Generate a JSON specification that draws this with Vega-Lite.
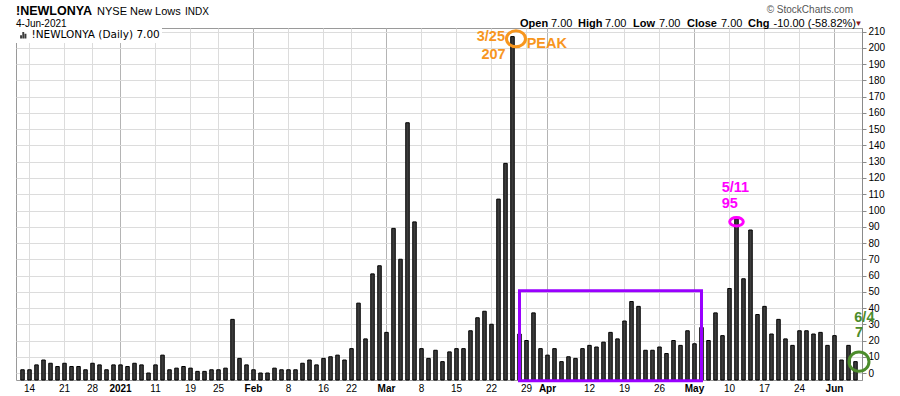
{
  "$schema": "https://vega.github.io/schema/vega-lite/v6.json",
  "width": 846,
  "height": 352,
  "autosize": {"type": "none"},
  "padding": {"left": 16, "top": 28, "right": 38, "bottom": 16},
  "background": "white",
  "config": {
    "view": {"stroke": "#9a9a9a", "strokeWidth": 1},
    "font": "Liberation Sans",
    "text": {"font": "Liberation Sans"},
    "axisY": {
      "tickCount": 22,
      "labelOverlap": false,
      "grid": true,
      "gridColor": "#dcdcdc",
      "labelFont": "Liberation Sans",
      "labelFontSize": 10,
      "labelColor": "#000000",
      "labelPadding": 2,
      "tickSize": 4,
      "tickColor": "#8a8a8a",
      "domainColor": "#8a8a8a"
    }
  },
  "data": {
    "values": [
      {"date": "2020-12-11", "lows": 2}, {"date": "2020-12-14", "lows": 2}, {"date": "2020-12-15", "lows": 5},
      {"date": "2020-12-16", "lows": 8}, {"date": "2020-12-17", "lows": 6}, {"date": "2020-12-18", "lows": 4},
      {"date": "2020-12-21", "lows": 6}, {"date": "2020-12-22", "lows": 4}, {"date": "2020-12-23", "lows": 4},
      {"date": "2020-12-24", "lows": 2}, {"date": "2020-12-28", "lows": 6}, {"date": "2020-12-29", "lows": 5},
      {"date": "2020-12-30", "lows": 2}, {"date": "2020-12-31", "lows": 5}, {"date": "2021-01-04", "lows": 5},
      {"date": "2021-01-05", "lows": 4}, {"date": "2021-01-06", "lows": 6}, {"date": "2021-01-07", "lows": 5},
      {"date": "2021-01-08", "lows": 0}, {"date": "2021-01-11", "lows": 5}, {"date": "2021-01-12", "lows": 11},
      {"date": "2021-01-13", "lows": 2}, {"date": "2021-01-14", "lows": 3}, {"date": "2021-01-15", "lows": 4},
      {"date": "2021-01-19", "lows": 3}, {"date": "2021-01-20", "lows": 1}, {"date": "2021-01-21", "lows": 1},
      {"date": "2021-01-22", "lows": 2}, {"date": "2021-01-25", "lows": 2}, {"date": "2021-01-26", "lows": 3},
      {"date": "2021-01-27", "lows": 33}, {"date": "2021-01-28", "lows": 9}, {"date": "2021-01-29", "lows": 5},
      {"date": "2021-02-01", "lows": 2}, {"date": "2021-02-02", "lows": 0}, {"date": "2021-02-03", "lows": 0},
      {"date": "2021-02-04", "lows": 3}, {"date": "2021-02-05", "lows": 2}, {"date": "2021-02-08", "lows": 2},
      {"date": "2021-02-09", "lows": 2}, {"date": "2021-02-10", "lows": 6}, {"date": "2021-02-11", "lows": 8},
      {"date": "2021-02-12", "lows": 5}, {"date": "2021-02-16", "lows": 9}, {"date": "2021-02-17", "lows": 10},
      {"date": "2021-02-18", "lows": 11}, {"date": "2021-02-19", "lows": 8}, {"date": "2021-02-22", "lows": 15},
      {"date": "2021-02-23", "lows": 43}, {"date": "2021-02-24", "lows": 21}, {"date": "2021-02-25", "lows": 61},
      {"date": "2021-02-26", "lows": 66}, {"date": "2021-03-01", "lows": 25}, {"date": "2021-03-02", "lows": 89},
      {"date": "2021-03-03", "lows": 70}, {"date": "2021-03-04", "lows": 154}, {"date": "2021-03-05", "lows": 93},
      {"date": "2021-03-08", "lows": 15}, {"date": "2021-03-09", "lows": 9}, {"date": "2021-03-10", "lows": 14},
      {"date": "2021-03-11", "lows": 7}, {"date": "2021-03-12", "lows": 13}, {"date": "2021-03-15", "lows": 15},
      {"date": "2021-03-16", "lows": 15}, {"date": "2021-03-17", "lows": 26}, {"date": "2021-03-18", "lows": 34},
      {"date": "2021-03-19", "lows": 38}, {"date": "2021-03-22", "lows": 30}, {"date": "2021-03-23", "lows": 107},
      {"date": "2021-03-24", "lows": 129}, {"date": "2021-03-25", "lows": 207}, {"date": "2021-03-26", "lows": 24},
      {"date": "2021-03-29", "lows": 20}, {"date": "2021-03-30", "lows": 37}, {"date": "2021-03-31", "lows": 15},
      {"date": "2021-04-01", "lows": 11}, {"date": "2021-04-05", "lows": 15}, {"date": "2021-04-06", "lows": 7},
      {"date": "2021-04-07", "lows": 10}, {"date": "2021-04-08", "lows": 9}, {"date": "2021-04-09", "lows": 15},
      {"date": "2021-04-12", "lows": 17}, {"date": "2021-04-13", "lows": 16}, {"date": "2021-04-14", "lows": 19},
      {"date": "2021-04-15", "lows": 25}, {"date": "2021-04-16", "lows": 21}, {"date": "2021-04-19", "lows": 32},
      {"date": "2021-04-20", "lows": 44}, {"date": "2021-04-21", "lows": 41}, {"date": "2021-04-22", "lows": 14},
      {"date": "2021-04-23", "lows": 14}, {"date": "2021-04-26", "lows": 16}, {"date": "2021-04-27", "lows": 12},
      {"date": "2021-04-28", "lows": 20}, {"date": "2021-04-29", "lows": 17}, {"date": "2021-04-30", "lows": 26},
      {"date": "2021-05-03", "lows": 18}, {"date": "2021-05-04", "lows": 28}, {"date": "2021-05-05", "lows": 20},
      {"date": "2021-05-06", "lows": 37}, {"date": "2021-05-07", "lows": 23}, {"date": "2021-05-10", "lows": 52},
      {"date": "2021-05-11", "lows": 95}, {"date": "2021-05-12", "lows": 58}, {"date": "2021-05-13", "lows": 88},
      {"date": "2021-05-14", "lows": 36}, {"date": "2021-05-17", "lows": 41}, {"date": "2021-05-18", "lows": 24},
      {"date": "2021-05-19", "lows": 33}, {"date": "2021-05-20", "lows": 21}, {"date": "2021-05-21", "lows": 17},
      {"date": "2021-05-24", "lows": 26}, {"date": "2021-05-25", "lows": 26}, {"date": "2021-05-26", "lows": 24},
      {"date": "2021-05-27", "lows": 25}, {"date": "2021-05-28", "lows": 17}, {"date": "2021-06-01", "lows": 23},
      {"date": "2021-06-02", "lows": 8}, {"date": "2021-06-03", "lows": 17}, {"date": "2021-06-04", "lows": 7}
    ]
  },
  "layer": [
    {
      "mark": {"type": "bar", "stroke": "#000000", "strokeWidth": 1},
      "encoding": {
        "x": {
          "field": "date",
          "type": "ordinal",
          "sort": null,
          "scale": {"paddingInner": 0.5, "paddingOuter": 0.68},
          "axis": {
            "title": null,
            "values": ["2020-12-14", "2020-12-21", "2020-12-28", "2021-01-04", "2021-01-11", "2021-01-19", "2021-01-25", "2021-02-01", "2021-02-08", "2021-02-16", "2021-02-22", "2021-03-01", "2021-03-08", "2021-03-15", "2021-03-22", "2021-03-29", "2021-04-01", "2021-04-12", "2021-04-19", "2021-04-26", "2021-05-03", "2021-05-10", "2021-05-17", "2021-05-24", "2021-06-01"],
            "bandPosition": 0.5,
            "labelAngle": 0,
            "labelFont": "Liberation Sans",
            "labelFontSize": 10,
            "labelColor": "#000000",
            "labelPadding": 3,
            "labelOverlap": false,
            "labelExpr": "datum.value == '2021-01-04' ? '2021' : datum.value == '2021-02-01' ? 'Feb' : datum.value == '2021-03-01' ? 'Mar' : datum.value == '2021-04-01' ? 'Apr' : datum.value == '2021-05-03' ? 'May' : datum.value == '2021-06-01' ? 'Jun' : '' + toNumber(substring(datum.value, 8, 10))",
            "labelFontWeight": {"condition": {"test": "indexof(['2021-01-04','2021-02-01','2021-03-01','2021-04-01','2021-05-03','2021-06-01'], datum.value) >= 0", "value": "bold"}, "value": "normal"},
            "ticks": false,
            "domain": false,
            "grid": true,
            "gridColor": {"condition": {"test": "indexof(['2021-01-04','2021-02-01','2021-03-01','2021-04-01','2021-05-03','2021-06-01'], datum.value) >= 0", "value": "#b4b4b4"}, "value": "#dcdcdc"},
            "gridWidth": 1
          }
        },
        "y": {
          "field": "lows",
          "type": "quantitative",
          "scale": {"domain": [-4.3, 212.3], "nice": false, "zero": false},
          "axis": {
            "orient": "right",
            "title": null,
            "values": [0, 10, 20, 30, 40, 50, 60, 70, 80, 90, 100, 110, 120, 130, 140, 150, 160, 170, 180, 190, 200, 210],
            "labelOverlap": false,
            "tickCount": 22,
            "grid": true
          }
        },
        "y2": {"datum": -4.3},
        "color": {
          "datum": "!NEWLONYA (Daily) 7.00",
          "scale": {"range": ["#3c3c3c"]},
          "legend": {
            "orient": "top-left",
            "offset": 0,
            "title": null,
            "padding": 2,
            "fillColor": "white",
            "symbolType": "M-1,1V0H-0.4V1ZM-0.3,1V-1H0.3V1ZM0.4,1V-0.5H1V1Z",
            "symbolSize": 40,
            "symbolStrokeWidth": 0,
            "labelFont": "DejaVu Sans",
            "labelFontSize": 10.5,
            "labelColor": "#000000",
            "labelOffset": 3
          }
        }
      }
    },
    {
      "data": {"values": [{}]},
      "mark": {"type": "rect", "filled": false, "stroke": "#9900FF", "strokeWidth": 3},
      "encoding": {
        "x": {"datum": "2021-03-26", "bandPosition": 0.5},
        "x2": {"datum": "2021-05-04", "bandPosition": 0.5},
        "y": {"datum": 50.6},
        "y2": {"datum": -4.7}
      }
    },
    {
      "data": {"values": [{}]},
      "mark": {"type": "point", "shape": "M-1,0A1,0.84 0 1,0 1,0A1,0.84 0 1,0 -1,0Z", "size": 361, "filled": false, "stroke": "#F7961E", "strokeWidth": 3, "opacity": 1, "xOffset": 3.5},
      "encoding": {"x": {"datum": "2021-03-25"}, "y": {"datum": 205.7}}
    },
    {
      "data": {"values": [{}]},
      "mark": {"type": "point", "shape": "M-1,0A1,0.62 0 1,0 1,0A1,0.62 0 1,0 -1,0Z", "size": 185, "filled": false, "stroke": "#FF00FF", "strokeWidth": 3, "opacity": 1},
      "encoding": {"x": {"datum": "2021-05-11"}, "y": {"datum": 93.1}}
    },
    {
      "data": {"values": [{}]},
      "mark": {"type": "point", "shape": "M-1,0A1,0.97 0 1,0 1,0A1,0.97 0 1,0 -1,0Z", "size": 400, "filled": false, "stroke": "#4C8C2B", "strokeWidth": 3, "opacity": 1, "xOffset": 3.5},
      "encoding": {"x": {"datum": "2021-06-04"}, "y": {"datum": 7}}
    },
    {
      "data": {"values": [{}]},
      "mark": {"type": "text", "text": "3/25", "align": "right", "baseline": "alphabetic", "dx": -7.5, "dy": 3.9, "fontSize": 14.5, "fontWeight": "bold", "color": "#F7961E"},
      "encoding": {"x": {"datum": "2021-03-25"}, "y": {"datum": 207}}
    },
    {
      "data": {"values": [{}]},
      "mark": {"type": "text", "text": "207", "align": "right", "baseline": "alphabetic", "dx": -6.8, "dy": 22.4, "fontSize": 14.5, "fontWeight": "bold", "color": "#F7961E"},
      "encoding": {"x": {"datum": "2021-03-25"}, "y": {"datum": 207}}
    },
    {
      "data": {"values": [{}]},
      "mark": {"type": "text", "text": "PEAK", "align": "left", "baseline": "alphabetic", "dx": 14.2, "dy": 11.4, "fontSize": 14.5, "fontWeight": "bold", "color": "#F7961E"},
      "encoding": {"x": {"datum": "2021-03-25"}, "y": {"datum": 207}}
    },
    {
      "data": {"values": [{}]},
      "mark": {"type": "text", "text": "5/11", "align": "left", "baseline": "alphabetic", "dx": -14.8, "dy": -27.1, "fontSize": 14.5, "fontWeight": "bold", "color": "#FF00FF"},
      "encoding": {"x": {"datum": "2021-05-11"}, "y": {"datum": 95}}
    },
    {
      "data": {"values": [{}]},
      "mark": {"type": "text", "text": "95", "align": "left", "baseline": "alphabetic", "dx": -14.8, "dy": -11.1, "fontSize": 14.5, "fontWeight": "bold", "color": "#FF00FF"},
      "encoding": {"x": {"datum": "2021-05-11"}, "y": {"datum": 95}}
    },
    {
      "data": {"values": [{}]},
      "mark": {"type": "text", "text": "6/4", "align": "left", "baseline": "alphabetic", "dx": -1.2, "dy": -40.1, "fontSize": 14.5, "fontWeight": "bold", "color": "#4C8C2B"},
      "encoding": {"x": {"datum": "2021-06-04"}, "y": {"datum": 7}}
    },
    {
      "data": {"values": [{}]},
      "mark": {"type": "text", "text": "7", "align": "left", "baseline": "alphabetic", "dx": -0.5, "dy": -25.1, "fontSize": 14.5, "fontWeight": "bold", "color": "#4C8C2B"},
      "encoding": {"x": {"datum": "2021-06-04"}, "y": {"datum": 7}}
    },
    {
      "data": {"values": [{}]},
      "mark": {"type": "text", "text": "!NEWLONYA", "align": "left", "baseline": "alphabetic", "dx": -6.5, "dy": -13, "fontSize": 12.5, "fontWeight": "bold", "color": "#000000"},
      "encoding": {"x": {"datum": "2020-12-11"}, "y": {"datum": 212.3}}
    },
    {
      "data": {"values": [{}]},
      "mark": {"type": "text", "text": "4-Jun-2021", "align": "left", "baseline": "alphabetic", "dx": -6.5, "dy": -1.5, "fontSize": 10, "color": "#000000"},
      "encoding": {"x": {"datum": "2020-12-11"}, "y": {"datum": 212.3}}
    },
    {
      "data": {"values": [{}]},
      "mark": {"type": "text", "text": "NYSE New Lows", "align": "left", "baseline": "alphabetic", "dx": 4.5, "dy": -13, "fontSize": 11, "color": "#000000"},
      "encoding": {"x": {"datum": "2020-12-28"}, "y": {"datum": 212.3}}
    },
    {
      "data": {"values": [{}]},
      "mark": {"type": "text", "text": "INDX", "align": "left", "baseline": "alphabetic", "dx": 1.5, "dy": -13, "fontSize": 10, "color": "#000000"},
      "encoding": {"x": {"datum": "2021-01-15"}, "y": {"datum": 212.3}}
    },
    {
      "data": {"values": [{}]},
      "mark": {"type": "text", "text": "© StockCharts.com", "align": "right", "baseline": "alphabetic", "dx": -2.5, "dy": -14.7, "fontSize": 10, "color": "#555555"},
      "encoding": {"x": {"datum": "2021-06-04"}, "y": {"datum": 212.3}}
    },
    {
      "data": {"values": [{}]},
      "mark": {"type": "text", "text": "Open", "align": "left", "baseline": "alphabetic", "dx": 0.5, "dy": -1.3, "fontSize": 11, "fontWeight": "bold", "color": "#000000"},
      "encoding": {"x": {"datum": "2021-03-26"}, "y": {"datum": 212.3}}
    },
    {
      "data": {"values": [{}]},
      "mark": {"type": "text", "text": "7.00", "align": "left", "baseline": "alphabetic", "dx": 3.5, "dy": -1.3, "fontSize": 11, "color": "#000000"},
      "encoding": {"x": {"datum": "2021-04-01"}, "y": {"datum": 212.3}}
    },
    {
      "data": {"values": [{}]},
      "mark": {"type": "text", "text": "High", "align": "left", "baseline": "alphabetic", "dx": 2.5, "dy": -1.3, "fontSize": 11, "fontWeight": "bold", "color": "#000000"},
      "encoding": {"x": {"datum": "2021-04-08"}, "y": {"datum": 212.3}}
    },
    {
      "data": {"values": [{}]},
      "mark": {"type": "text", "text": "7.00", "align": "left", "baseline": "alphabetic", "dx": 1.5, "dy": -1.3, "fontSize": 11, "color": "#000000"},
      "encoding": {"x": {"datum": "2021-04-14"}, "y": {"datum": 212.3}}
    },
    {
      "data": {"values": [{}]},
      "mark": {"type": "text", "text": "Low", "align": "left", "baseline": "alphabetic", "dx": 1.5, "dy": -1.3, "fontSize": 11, "fontWeight": "bold", "color": "#000000"},
      "encoding": {"x": {"datum": "2021-04-20"}, "y": {"datum": 212.3}}
    },
    {
      "data": {"values": [{}]},
      "mark": {"type": "text", "text": "7.00", "align": "left", "baseline": "alphabetic", "dx": -0.5, "dy": -1.3, "fontSize": 11, "color": "#000000"},
      "encoding": {"x": {"datum": "2021-04-26"}, "y": {"datum": 212.3}}
    },
    {
      "data": {"values": [{}]},
      "mark": {"type": "text", "text": "Close", "align": "left", "baseline": "alphabetic", "dx": -0.5, "dy": -1.3, "fontSize": 11, "fontWeight": "bold", "color": "#000000"},
      "encoding": {"x": {"datum": "2021-04-30"}, "y": {"datum": 212.3}}
    },
    {
      "data": {"values": [{}]},
      "mark": {"type": "text", "text": "7.00", "align": "left", "baseline": "alphabetic", "dx": -1.5, "dy": -1.3, "fontSize": 11, "color": "#000000"},
      "encoding": {"x": {"datum": "2021-05-07"}, "y": {"datum": 212.3}}
    },
    {
      "data": {"values": [{}]},
      "mark": {"type": "text", "text": "Chg", "align": "left", "baseline": "alphabetic", "dx": -2.5, "dy": -1.3, "fontSize": 11, "fontWeight": "bold", "color": "#000000"},
      "encoding": {"x": {"datum": "2021-05-13"}, "y": {"datum": 212.3}}
    },
    {
      "data": {"values": [{}]},
      "mark": {"type": "text", "text": "-10.00 (-58.82%)", "align": "left", "baseline": "alphabetic", "dx": 2, "dy": -1.3, "fontSize": 11, "color": "#000000"},
      "encoding": {"x": {"datum": "2021-05-18"}, "y": {"datum": 212.3}}
    },
    {
      "data": {"values": [{}]},
      "mark": {"type": "text", "text": "▼", "align": "center", "baseline": "alphabetic", "dx": 3, "dy": -2.5, "fontSize": 8, "color": "#8B1A1A"},
      "encoding": {"x": {"datum": "2021-06-04"}, "y": {"datum": 212.3}}
    }
  ]
}
